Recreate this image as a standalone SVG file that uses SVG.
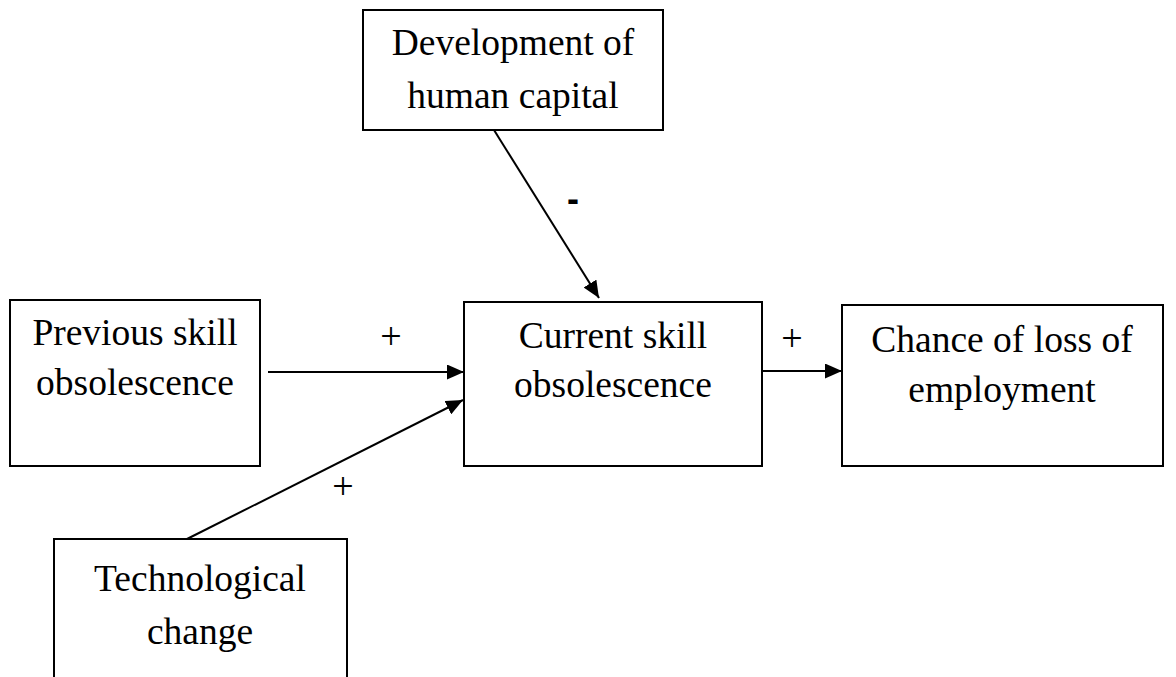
<svg xmlns="http://www.w3.org/2000/svg" width="1176" height="677" viewBox="0 0 1176 677">
<style>
.box{fill:#fff;stroke:#000;stroke-width:2}
.t{font-family:"Liberation Serif","Times New Roman",serif;font-size:37.5px;fill:#000;text-anchor:middle}
.s{font-family:"Liberation Serif","Times New Roman",serif;font-size:38px;fill:#000;text-anchor:middle}
.m{font-family:"Liberation Sans",Arial,sans-serif;font-size:36px;font-weight:bold;fill:#000;text-anchor:middle}
.c{stroke:#000;stroke-width:2;fill:none;marker-end:url(#ah)}
</style>
<defs>
<marker id="ah" markerWidth="17" markerHeight="15" refX="17" refY="7.5" orient="auto" markerUnits="userSpaceOnUse">
<path d="M0,0 L17,7.5 L0,15 Z" fill="#000"/>
</marker>
</defs>
<rect width="1176" height="677" fill="#fff"/>
<g id="connectors">
<line class="c" x1="494" y1="130" x2="599" y2="298"/>
<line class="c" x1="268" y1="372" x2="464" y2="372"/>
<line class="c" x1="762" y1="371" x2="842" y2="371"/>
<line class="c" x1="187" y1="539" x2="463" y2="400"/>
<text class="m" x="573" y="211">-</text>
<text class="s" x="391" y="349">+</text>
<text class="s" x="792" y="351">+</text>
<text class="s" x="343" y="499">+</text>
</g>
<g id="dev">
<rect class="box" x="363" y="10" width="300" height="120"/>
<text class="t" x="513" y="55">Development of</text>
<text class="t" x="513" y="108">human capital</text>
</g>
<g id="prev">
<rect class="box" x="10" y="300" width="250" height="166"/>
<text class="t" x="135" y="345">Previous skill</text>
<text class="t" x="135" y="395">obsolescence</text>
</g>
<g id="curr">
<rect class="box" x="464" y="302" width="298" height="164"/>
<text class="t" x="613" y="348">Current skill</text>
<text class="t" x="613" y="397">obsolescence</text>
</g>
<g id="chance">
<rect class="box" x="842" y="305" width="321" height="161"/>
<text class="t" x="1002" y="352">Chance of loss of</text>
<text class="t" x="1002" y="402">employment</text>
</g>
<g id="tech">
<rect class="box" x="54" y="539" width="293" height="160"/>
<text class="t" x="200" y="591">Technological</text>
<text class="t" x="200" y="644">change</text>
</g>
</svg>
